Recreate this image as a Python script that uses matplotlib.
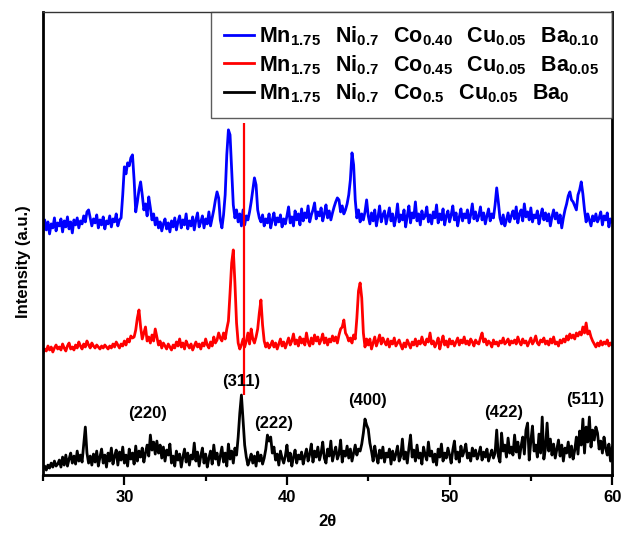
import numpy as np
import matplotlib
matplotlib.use("Agg")
import matplotlib.pyplot as plt
from matplotlib.ticker import MultipleLocator

plt.rcParams['font.family'] = ['Liberation Sans', 'DejaVu Sans']
plt.rcParams['font.weight'] = 'bold'
plt.rcParams['mathtext.fontset'] = 'custom'
plt.rcParams['mathtext.rm'] = 'Liberation Sans'
plt.rcParams['mathtext.bf'] = 'Liberation Sans:bold'

# 2theta grid, 0.1 deg steps from 25 to 60
two_theta = np.round(np.linspace(25, 60, 351), 1)

# intensities (arbitrary units), one row per degree
black_rows = [
    [6, 9, 5, 10, 7, 12, 8, 14, 9, 11],
    [15, 8, 18, 10, 20, 9, 16, 22, 12, 19],
    [11, 24, 14, 20, 13, 30, 48, 22, 12, 19],
    [10, 21, 13, 24, 9, 18, 26, 12, 20, 8],
    [22, 14, 27, 11, 19, 25, 10, 23, 15, 28],
    [12, 20, 9, 26, 16, 22, 11, 29, 14, 24],
    [18, 27, 13, 22, 30, 19, 40, 25, 33, 21],
    [34, 22, 30, 17, 28, 14, 25, 20, 31, 12],
    [19, 9, 24, 15, 21, 8, 18, 26, 13, 22],
    [10, 20, 16, 32, 14, 23, 9, 19, 27, 12],
    [21, 8, 17, 24, 11, 30, 16, 22, 10, 19],
    [28, 13, 22, 9, 31, 16, 24, 12, 27, 20],
    [38, 62, 80, 55, 30, 18, 10, 15, 21, 12],
    [19, 9, 23, 14, 20, 11, 17, 26, 40, 34],
    [38, 22, 28, 15, 21, 10, 24, 17, 12, 19],
    [30, 14, 22, 9, 18, 25, 12, 20, 16, 23],
    [11, 19, 26, 14, 21, 31, 13, 24, 18, 28],
    [15, 22, 33, 17, 12, 26, 19, 34, 14, 22],
    [28, 16, 21, 35, 13, 24, 19, 29, 17, 26],
    [14, 22, 30, 20, 26, 24, 31, 42, 56, 50],
    [46, 32, 24, 14, 29, 19, 12, 25, 17, 28],
    [13, 22, 18, 26, 11, 24, 15, 21, 29, 14],
    [19, 36, 16, 23, 12, 27, 40, 18, 25, 14],
    [30, 17, 22, 11, 28, 20, 15, 33, 19, 24],
    [13, 21, 10, 26, 18, 31, 14, 22, 17, 27],
    [20, 12, 25, 34, 16, 23, 13, 29, 19, 24],
    [31, 17, 22, 14, 27, 19, 25, 16, 21, 28],
    [15, 23, 18, 26, 14, 20, 25, 17, 22, 45],
    [19, 13, 42, 24, 30, 18, 37, 22, 28, 20],
    [40, 23, 33, 17, 29, 38, 21, 45, 52, 15],
    [34, 49, 24, 30, 18, 41, 22, 58, 16, 27],
    [52, 24, 36, 20, 31, 17, 26, 35, 19, 30],
    [14, 27, 22, 33, 18, 29, 16, 25, 38, 21],
    [44, 30, 56, 22, 48, 33, 58, 28, 45, 35],
    [48, 42, 26, 34, 22, 38, 27, 20, 31, 14],
    [28],
]

red_rows = [
    [10, 14, 12, 17, 13, 16, 11, 15, 18, 14],
    [16, 13, 19, 15, 12, 17, 20, 14, 16, 13],
    [18, 15, 21, 17, 14, 19, 16, 22, 18, 15],
    [20, 17, 15, 18, 16, 14, 17, 15, 18, 16],
    [14, 17, 15, 19, 16, 21, 18, 15, 19, 17],
    [22, 18, 24, 21, 27, 25, 26, 33, 45, 53],
    [36, 24, 30, 36, 22, 26, 20, 28, 22, 34],
    [26, 18, 22, 15, 20, 17, 14, 19, 16, 13],
    [18, 15, 21, 17, 24, 16, 20, 14, 22, 18],
    [15, 19, 13, 17, 21, 16, 19, 14, 20, 17],
    [24, 18, 15, 21, 17, 26, 20, 23, 30, 25],
    [22, 30, 24, 34, 42, 70, 100, 113, 80, 40],
    [20, 14, 18, 24, 16, 22, 30, 19, 34, 24],
    [20, 26, 34, 50, 63, 38, 22, 16, 20, 15],
    [18, 22, 16, 20, 14, 19, 24, 17, 21, 15],
    [20, 25, 18, 22, 29, 19, 23, 17, 26, 20],
    [24, 18, 30, 21, 17, 25, 19, 28, 22, 26],
    [19, 23, 29, 20, 25, 18, 24, 21, 27, 22],
    [26, 20, 28, 34, 36, 43, 30, 27, 22, 25],
    [20, 28, 24, 45, 72, 80, 65, 30, 16, 24],
    [18, 24, 14, 20, 26, 17, 22, 28, 19, 25],
    [21, 18, 24, 16, 22, 19, 25, 17, 20, 23],
    [18, 14, 20, 16, 23, 19, 15, 21, 18, 24],
    [17, 22, 19, 26, 20, 18, 24, 21, 30, 19],
    [22, 16, 20, 25, 14, 21, 27, 18, 22, 16],
    [24, 19, 22, 17, 21, 25, 18, 23, 20, 26],
    [19, 22, 18, 24, 21, 17, 23, 20, 19, 25],
    [30, 21, 24, 18, 22, 20, 16, 23, 19, 21],
    [17, 22, 20, 25, 19, 21, 24, 18, 22, 20],
    [23, 19, 26, 21, 18, 24, 20, 22, 17, 21],
    [25, 19, 22, 27, 20, 18, 23, 21, 25, 19],
    [22, 18, 24, 20, 26, 19, 21, 17, 23, 20],
    [24, 21, 27, 23, 29, 25, 28, 24, 30, 27],
    [31, 28, 36, 30, 40, 29, 32, 26, 22, 19],
    [16, 20, 17, 22, 18, 21, 19, 23, 17, 20],
    [18],
]

blue_rows = [
    [8, 20, 10, 18, 6, 16, 12, 22, 9, 17],
    [14, 21, 8, 19, 13, 23, 11, 18, 7, 20],
    [15, 22, 12, 19, 16, 24, 18, 28, 30, 22],
    [14, 21, 17, 25, 12, 20, 15, 23, 11, 19],
    [16, 24, 13, 21, 18, 26, 14, 20, 22, 45],
    [73, 66, 77, 74, 82, 85, 60, 28, 38, 50],
    [58, 45, 30, 36, 24, 43, 32, 20, 26, 15],
    [22, 12, 18, 9, 16, 21, 11, 17, 8, 19],
    [13, 22, 10, 18, 24, 12, 20, 15, 26, 11],
    [19, 14, 23, 10, 20, 27, 13, 18, 24, 12],
    [21, 16, 28, 14, 22, 30, 40, 48, 42, 20],
    [12, 25, 45, 85, 110, 105, 70, 35, 22, 30],
    [18, 26, 14, 30, 15, 24, 20, 28, 38, 50],
    [62, 55, 30, 22, 18, 25, 14, 21, 17, 26],
    [12, 20, 27, 15, 22, 18, 25, 13, 21, 16],
    [24, 33, 17, 23, 14, 29, 20, 26, 15, 31],
    [19, 27, 22, 34, 18, 25, 30, 37, 21, 28],
    [24, 32, 19, 26, 35, 22, 29, 20, 27, 33],
    [38, 42, 40, 28, 34, 26, 30, 36, 45, 60],
    [87, 75, 40, 22, 30, 18, 26, 20, 28, 40],
    [24, 16, 27, 19, 30, 14, 23, 34, 18, 25],
    [29, 16, 24, 32, 19, 26, 14, 22, 36, 18],
    [25, 20, 30, 13, 24, 34, 17, 27, 22, 38],
    [19, 26, 15, 29, 21, 24, 33, 18, 25, 16],
    [28, 22, 35, 17, 26, 20, 31, 15, 24, 29],
    [18, 25, 34, 20, 27, 14, 23, 31, 19, 26],
    [22, 30, 17, 25, 36, 21, 28, 19, 24, 33],
    [20, 27, 16, 24, 31, 19, 26, 22, 35, 52],
    [38, 22, 16, 25, 14, 20, 27, 18, 24, 29],
    [21, 33, 17, 26, 30, 19, 36, 23, 28, 20],
    [32, 18, 25, 22, 29, 16, 24, 31, 20, 27],
    [19, 26, 14, 23, 30, 21, 27, 17, 25, 12],
    [22, 30, 36, 44, 48, 40, 38, 34, 30, 45],
    [50, 58, 46, 30, 18, 26, 20, 14, 24, 19],
    [26, 18, 22, 28, 15, 24, 20, 27, 13, 21],
    [18],
]

black_int = np.concatenate(black_rows)
red_int = np.concatenate(red_rows)
blue_int = np.concatenate(blue_rows)

labels = [
    r'$\mathbf{Mn_{1.75}\ \ Ni_{0.7}\ \ Co_{0.40}\ \ Cu_{0.05}\ \ Ba_{0.10}}$',
    r'$\mathbf{Mn_{1.75}\ \ Ni_{0.7}\ \ Co_{0.45}\ \ Cu_{0.05}\ \ Ba_{0.05}}$',
    r'$\mathbf{Mn_{1.75}\ \ Ni_{0.7}\ \ Co_{0.5}\ \ Cu_{0.05}\ \ Ba_{0}}$',
]

hkl = ['(220)', '(311)', '(222)', '(400)', '(422)', '(511)']
hkl_x = [31.45, 37.2, 39.2, 44.95, 53.35, 58.35]
hkl_y = [62, 94, 52, 75, 63, 76]

ref_2theta = 37.35  # red reference line
ref_top = 352

# vertical stacking offsets
offsets = [235, 112, 0]
colors = ['#0000ff', '#ff0000', '#000000']

fig = plt.figure(figsize=(6.24, 5.35), dpi=100)
ax = fig.add_axes([0.069, 0.112, 0.912, 0.866])

for ints, off, c, lab in zip([blue_int, red_int, black_int], offsets, colors, labels):
    ax.plot(two_theta, ints + off, color=c, lw=2.0, label=lab)

ax.vlines(ref_2theta, black_int.max(), ref_top, color='#ff0000', lw=1.6)

for t, xx, yy in zip(hkl, hkl_x, hkl_y):
    ax.text(xx, yy, t, ha='center', va='center', fontsize=12, fontweight='bold')

ax.set_xlim(25, 60)
ax.set_ylim(0, 463)
ax.set_yticks([])
ax.xaxis.set_major_locator(MultipleLocator(10))
ax.xaxis.set_minor_locator(MultipleLocator(5))
ax.tick_params(axis='x', which='major', direction='out', length=7, width=1.6,
               labelsize=12, pad=4)
ax.tick_params(axis='x', which='minor', direction='out', length=4, width=1.6)
for t in ax.get_xticklabels():
    t.set_fontweight('bold')

for s in ['left', 'right', 'bottom']:
    ax.spines[s].set_linewidth(2.0)
ax.spines['top'].set_linewidth(1.0)
ax.spines['top'].set_color('#333333')

ax.set_xlabel('2θ', fontsize=12, fontweight='bold', labelpad=6)
ax.set_ylabel('Intensity (a.u.)', fontsize=12, fontweight='bold')
ax.yaxis.set_label_coords(-0.022, 0.46)

leg = ax.legend(loc='upper right', bbox_to_anchor=(1.0, 1.0), borderaxespad=0,
                fontsize=15.5, frameon=True, fancybox=False, handlelength=1.4,
                handletextpad=0.25, labelspacing=0.22, borderpad=0.6)
leg.get_frame().set_edgecolor('#333333')
leg.get_frame().set_linewidth(1.0)

fig.savefig('out.png', dpi=100)
